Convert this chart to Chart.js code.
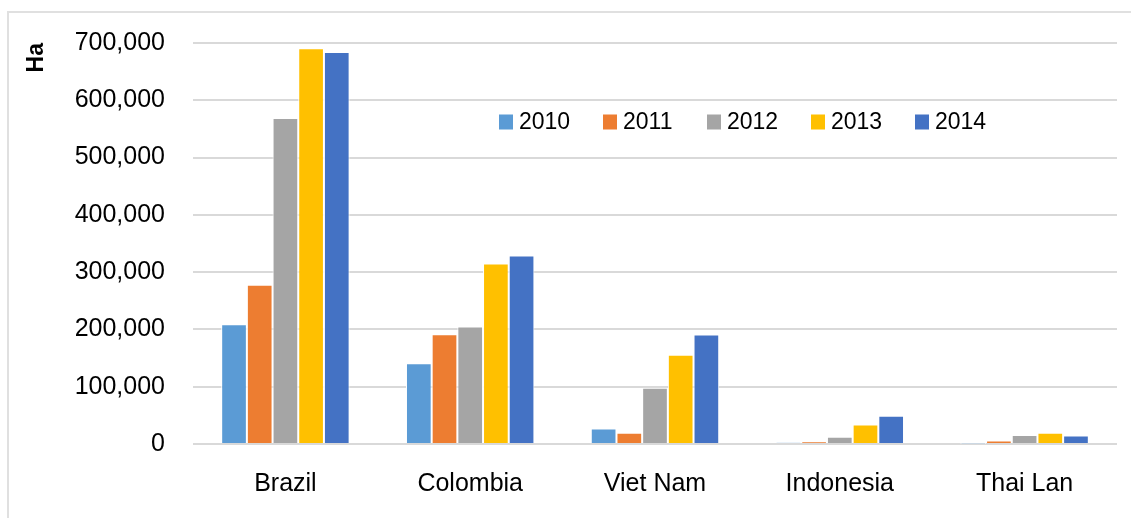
<!DOCTYPE html>
<html>
<head>
<meta charset="utf-8">
<script src="https://cdn.jsdelivr.net/npm/chart.js@4"></script>
<style>
  body { margin: 0; background: #fff; overflow: hidden; }
  #wrap { position: relative; width: 1131px; height: 518px; }
  #frame { position: absolute; left: 7px; top: 11px; width: 1400px; height: 800px; border: 2px solid #e0e0e0; }
  canvas { position: absolute; left: 0; top: 0; }
</style>
</head>
<body>
<div id="wrap">
  <div id="frame"></div>
  <canvas id="myChart" width="1131" height="518"></canvas>
</div>
<script>
'use strict'

// Planted area (ha) per country and year
const countries = ['Brazil', 'Colombia', 'Viet Nam', 'Indonesia', 'Thai Lan'];
const years = ['2010', '2011', '2012', '2013', '2014'];
const area2010 = [209000, 141000, 27000, 2800, 500];
const area2011 = [278000, 191500, 19500, 4500, 6000];
const area2012 = [569000, 205000, 98000, 12700, 15500];
const area2013 = [691000, 315000, 156000, 34000, 19600];
const area2014 = [684500, 329000, 191000, 49500, 15000];
const yTicks = [0, 100000, 200000, 300000, 400000, 500000, 600000, 700000];

const colors = ['#5B9BD5', '#ED7D31', '#A5A5A5', '#FFC000', '#4472C4'];
const series = [area2010, area2011, area2012, area2013, area2014];

const fontFamily = '"Liberation Sans", Arial, sans-serif';

// legend drawn inside the plot, top right
const yearLegend = {
    id: 'yearLegend',
    afterDraw(chart, args, opts) {
        const ctx = chart.ctx;
        ctx.save();
        ctx.font = opts.font;
        ctx.textBaseline = 'middle';
        ctx.textAlign = 'left';
        chart.data.datasets.forEach((ds, i) => {
            let x = opts.x + i * opts.spacing;
            ctx.fillStyle = ds.backgroundColor;
            ctx.fillRect(x, opts.y - 7.5, 14, 15);
            ctx.fillStyle = '#000';
            ctx.fillText(ds.label, x + 20, opts.y + 1);
        });
        ctx.restore();
    }
};

var ctx = document.getElementById('myChart').getContext('2d');

var chart = new Chart(ctx, {
    type: 'bar',
    data: {
        labels: countries,
        datasets: years.map((yr, i) => ({
            label: yr,
            data: series[i],
            backgroundColor: colors[i],
            borderColor: '#ffffff',
            borderWidth: 1,
            borderSkipped: 'bottom',
            categoryPercentage: 0.695,
            barPercentage: 1
        }))
    },
    options: {
        responsive: false,
        animation: false,
        devicePixelRatio: 1,
        layout: {
            padding: { left: 20, top: 39, right: 14, bottom: 0 }
        },
        plugins: {
            legend: { display: false },
            tooltip: { enabled: false },
            yearLegend: {
                x: 499,
                y: 122,
                spacing: 104,
                font: '23px ' + fontFamily
            }
        },
        scales: {
            x: {
                grid: { display: false },
                border: { display: false },
                ticks: {
                    color: '#000',
                    padding: 17,
                    font: { family: fontFamily, size: 25 }
                },
                afterFit(scale) { scale.height = 74; }
            },
            y: {
                min: 0,
                max: 700000,
                afterBuildTicks(scale) {
                    scale.ticks = yTicks.map(v => ({ value: v }));
                },
                grid: {
                    color: '#d9d9d9',
                    lineWidth: 2,
                    drawTicks: false
                },
                border: { display: false },
                ticks: {
                    color: '#000',
                    padding: 28,
                    font: { family: fontFamily, size: 25 },
                    callback: v => v.toLocaleString('en-US')
                },
                title: {
                    display: true,
                    text: 'Ha',
                    align: 'end',
                    color: '#000',
                    padding: { top: 3, bottom: 0 },
                    font: { family: fontFamily, size: 23, weight: 'bold' }
                },
                afterFit(scale) { scale.width = 173; }
            }
        }
    },
    plugins: [yearLegend]
});
</script>
</body>
</html>
